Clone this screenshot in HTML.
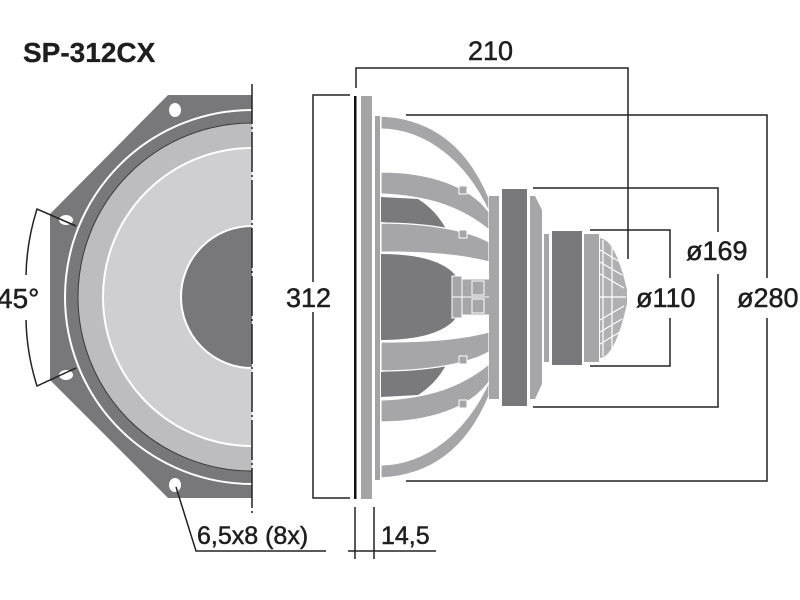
<!DOCTYPE html>
<html><head><meta charset="utf-8"><style>
html,body{margin:0;padding:0;background:#fff;}
svg{display:block}
text{font-family:"Liberation Sans",sans-serif;fill:#1e1e1e;stroke:#1e1e1e;stroke-width:0.5}
</style></head><body>
<svg width="800" height="600" viewBox="0 0 800 600" xmlns="http://www.w3.org/2000/svg">
<rect width="800" height="600" fill="#fff"/>
<text x="23" y="62" font-size="28" font-weight="bold" style="stroke-width:0.3">SP-312CX</text>

<!-- FRONT VIEW -->
<defs><clipPath id="half"><rect x="0" y="0" width="252" height="600"/></clipPath></defs>
<g clip-path="url(#half)">
  <polygon points="168,95 252,95 252,498 168,498 50,380 50,214" fill="#78787a"/>
  <circle cx="252" cy="297" r="187" fill="none" stroke="#fff" stroke-width="2"/>
  <circle cx="252" cy="297" r="174" fill="#bdbdbf" stroke="#3a3a3a" stroke-width="1"/>
  <circle cx="252" cy="297" r="149" fill="#cfcfd1" stroke="#fff" stroke-width="2"/>
  <circle cx="252" cy="297" r="71" fill="#78787a" stroke="#fff" stroke-width="2"/>
  <ellipse cx="175" cy="110" rx="6" ry="7" fill="#fff"/>
  <ellipse cx="175" cy="485" rx="6" ry="7" fill="#fff"/>
  <ellipse cx="66" cy="220" rx="7" ry="5" fill="#fff"/>
  <ellipse cx="66" cy="375" rx="7" ry="5" fill="#fff"/>
</g>
<line x1="252" y1="84" x2="252" y2="514" stroke="#222" stroke-width="1.5" stroke-dasharray="40,3,2,3"/>
<!-- 45° -->
<path d="M76,226 L37,209 A235,235 0 0 0 26,275" fill="none" stroke="#222" stroke-width="1.5"/>
<path d="M76,368 L37,386 A235,235 0 0 1 26,320" fill="none" stroke="#222" stroke-width="1.5"/>
<text x="-3" y="308" font-size="28">45°</text>
<!-- hole leader -->
<polyline points="176,487 196,551 326,551" fill="none" stroke="#222" stroke-width="1.5"/>
<text x="197" y="544" font-size="25">6,5x8 (8x)</text>

<!-- SIDE VIEW -->
<rect x="354" y="96" width="2.5" height="403" fill="#111"/>
<rect x="361" y="96" width="11" height="403" fill="#a4a4a6"/>
<rect x="375" y="116" width="5" height="364" fill="#a4a4a6"/>
<g id="upper">
  <path d="M381,116 C425,118 465,140 489,198 L489,212 C465,160 425,130 381,129 Z" fill="#a6a6a8" stroke="#fff" stroke-width="1.2"/>
  <path d="M381,172 C430,172 470,186 489,212 L489,230 C462,208 430,196 381,194 Z" fill="#a6a6a8" stroke="#fff" stroke-width="1.2"/>
  <path d="M381,197 L418,199 C432,208 440,218 446,229 L381,222 Z" fill="#7a7a7c"/>
  <path d="M381,223 C430,223 470,231 489,242 L489,262 C462,255 430,252 381,252 Z" fill="#a6a6a8" stroke="#fff" stroke-width="1.2"/>
  <path d="M381,254 C420,254 445,262 456,276 L456,297 L381,297 Z" fill="#7a7a7c"/>
  <rect x="452" y="276" width="10" height="21" fill="#a6a6a8" stroke="#fff"/>
  <rect x="462" y="279" width="28" height="18" fill="#a6a6a8" stroke="#fff"/>
  <rect x="472" y="281" width="12" height="14" fill="#a6a6a8" stroke="#fff"/>
  <rect x="459" y="186" width="8" height="8" fill="#a6a6a8" stroke="#fff"/>
  <rect x="459" y="230" width="8" height="8" fill="#a6a6a8" stroke="#fff"/>
</g>
<use href="#upper" transform="matrix(1,0,0,-1,0,594)"/>
<rect x="489" y="196" width="10" height="203" fill="#a6a6a8"/>
<rect x="502" y="189" width="25" height="217" fill="#78787a"/>
<polygon points="530,196 535,196 542,210 542,384 535,399 530,399" fill="#a6a6a8"/>
<rect x="544" y="234" width="5" height="128" fill="#a6a6a8"/>
<rect x="552" y="231" width="30" height="134" fill="#78787a"/>
<rect x="584" y="234" width="15" height="128" fill="#a6a6a8"/>
<path d="M600,238 C612,240 620,260 627,290 L627,304 C620,334 612,356 600,358 Z" fill="#b0b0b2"/>
<g stroke="#fff" stroke-width="1.2" fill="none">
  <path d="M600,250 L620,262 M600,262 L622,275 M600,274 L624,288 M600,320 L624,306 M600,332 L622,319 M600,344 L620,332"/>
  <path d="M603,240 L603,356 M612,246 L612,350 M600,297 L626,297"/>
</g>

<!-- dimensions -->
<g stroke="#222" stroke-width="1.5" fill="none">
  <polyline points="356,88 356,68 628,68 628,259"/>
  <polyline points="350,95 313,95 313,498 350,498"/>
  <polyline points="406,115 767,115 767,278"/>
  <polyline points="406,481 767,481 767,318"/>
  <polyline points="533,188 718,188 718,232"/>
  <polyline points="533,407 718,407 718,274"/>
  <polyline points="590,230 670,230 670,278"/>
  <polyline points="590,366 670,366 670,318"/>
  <line x1="355" y1="507" x2="355" y2="559"/>
  <line x1="374" y1="507" x2="374" y2="559"/>
  <line x1="348" y1="551" x2="436" y2="551"/>
</g>
<rect x="280" y="282" width="60" height="30" fill="#fff"/>
<text x="286" y="307" font-size="27">312</text>
<text x="468" y="60" font-size="27">210</text>
<text x="686" y="260" font-size="27">ø169</text>
<text x="636" y="307" font-size="27">ø110</text>
<text x="737" y="307" font-size="27">ø280</text>
<text x="381" y="544" font-size="25">14,5</text>
</svg>
</body></html>
